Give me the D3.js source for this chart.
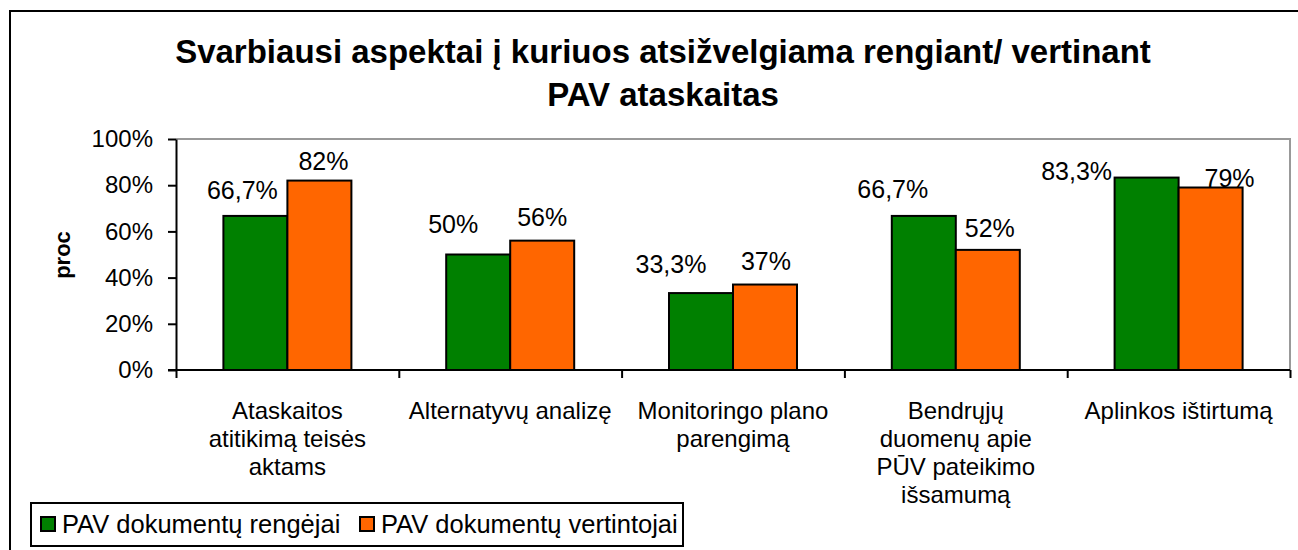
<!DOCTYPE html>
<html>
<head>
<meta charset="utf-8">
<script src="https://cdn.jsdelivr.net/npm/d3@7"></script>
<style>
  body { margin: 0; background: #fff; }
  svg text { font-family: "Liberation Sans", Arial, sans-serif; fill: #000; }
</style>
</head>
<body>
<div id="chart"></div>
<script>
var svgWidth = 1298;
var svgHeight = 550;

// data
var categories = [
  ["Ataskaitos", "atitikimą teisės", "aktams"],
  ["Alternatyvų analizę"],
  ["Monitoringo plano", "parengimą"],
  ["Bendrųjų", "duomenų apie", "PŪV pateikimo", "išsamumą"],
  ["Aplinkos ištirtumą"]
];
var seriesNames = ["PAV dokumentų rengėjai", "PAV dokumentų vertintojai"];
var rengejai = [66.7, 50, 33.3, 66.7, 83.3];
var vertintojai = [82, 56, 37, 52, 79];
var rengejaiLabels = ["66,7%", "50%", "33,3%", "66,7%", "83,3%"];
var vertintojaiLabels = ["82%", "56%", "37%", "52%", "79%"];
var yTicks = [0, 20, 40, 60, 80, 100];

var colors = ["#008000", "#ff6600"];

// hand-moved data labels in the original (dx from bar centre, dy from bar top)
var labelShift = [
  [[-13, -17], [-25, -22], [-30, -20], [-31, -18], [-70, 2]],
  [[4, -11], [0, -15], [1, -15], [2, -13], [19, -1]]
];

var plot = { left: 176, right: 1290, top: 139, bottom: 370 };

var svg = d3.select("#chart")
  .append("svg")
  .attr("width", svgWidth)
  .attr("height", svgHeight);

// outer chart border (runs off the right/bottom edge)
svg.append("rect")
  .attr("x", 10)
  .attr("y", 11)
  .attr("width", 1400)
  .attr("height", 700)
  .attr("fill", "none")
  .attr("stroke", "#000")
  .attr("stroke-width", 2);

// title
var title = svg.append("text")
  .attr("text-anchor", "middle")
  .attr("font-weight", "bold")
  .attr("font-size", 33);
title.append("tspan").attr("x", 663).attr("y", 63)
  .text("Svarbiausi aspektai į kuriuos atsižvelgiama rengiant/ vertinant");
title.append("tspan").attr("x", 663).attr("y", 106)
  .text("PAV ataskaitas");

// scales
var x0 = d3.scaleBand()
  .domain(d3.range(categories.length))
  .range([plot.left, plot.right])
  .paddingInner(0.4255)
  .paddingOuter(0.21275);

var x1 = d3.scaleBand()
  .domain([0, 1])
  .range([0, x0.bandwidth()]);

var y = d3.scaleLinear()
  .domain([0, 100])
  .range([plot.bottom, plot.top]);

var xEdge = d3.scaleLinear()
  .domain([0, categories.length])
  .range([plot.left, plot.right]);

// plot area border (grey top and right)
svg.append("path")
  .attr("d", `M${plot.left},${plot.top}H${plot.right}V${plot.bottom}`)
  .attr("fill", "none")
  .attr("stroke", "#999")
  .attr("stroke-width", 2);

// bars
var seriesValues = [rengejai, vertintojai];
var seriesLabels = [rengejaiLabels, vertintojaiLabels];

seriesValues.forEach(function(vals, s) {
  svg.append("g").selectAll("rect")
    .data(vals)
    .enter()
    .append("rect")
    .attr("x", (d, i) => x0(i) + x1(s))
    .attr("y", d => y(d))
    .attr("width", x1.bandwidth())
    .attr("height", d => y(0) - y(d))
    .attr("fill", colors[s])
    .attr("stroke", "#000")
    .attr("stroke-width", 2);
});

// data labels
seriesValues.forEach(function(vals, s) {
  svg.append("g").selectAll("text")
    .data(vals)
    .enter()
    .append("text")
    .attr("text-anchor", "middle")
    .attr("font-size", 25)
    .attr("x", (d, i) => x0(i) + x1(s) + x1.bandwidth() / 2 + labelShift[s][i][0])
    .attr("y", (d, i) => y(d) + labelShift[s][i][1])
    .text((d, i) => seriesLabels[s][i]);
});

// y axis
var yAxis = svg.append("g")
  .attr("transform", `translate(${plot.left},0)`)
  .call(d3.axisLeft(y)
    .tickValues(yTicks)
    .tickSize(8)
    .tickSizeOuter(0)
    .tickPadding(15)
    .tickFormat(d => d + "%"));
yAxis.select(".domain").attr("stroke", "#000").attr("stroke-width", 2);
yAxis.selectAll(".tick line").attr("stroke", "#000").attr("stroke-width", 2);
yAxis.selectAll(".tick text")
  .attr("font-size", 24)
  .attr("font-family", "Liberation Sans, Arial, sans-serif")
  .attr("fill", "#000");

// x axis (ticks at category boundaries)
var xAxis = svg.append("g")
  .attr("transform", `translate(0,${plot.bottom})`)
  .call(d3.axisBottom(xEdge)
    .tickValues(d3.range(categories.length + 1))
    .tickSize(8)
    .tickSizeOuter(0)
    .tickFormat(""));
xAxis.select(".domain").attr("stroke", "#000").attr("stroke-width", 2)
  .attr("d", `M${plot.left - 8},0H${plot.right}`);
xAxis.selectAll(".tick line").attr("stroke", "#000").attr("stroke-width", 2);

// category labels
var catText = svg.append("g").selectAll("text")
  .data(categories)
  .enter()
  .append("text")
  .attr("text-anchor", "middle")
  .attr("font-size", 24);
catText.each(function(lines, i) {
  var t = d3.select(this);
  lines.forEach(function(line, k) {
    t.append("tspan")
      .attr("x", x0(i) + x0.bandwidth() / 2)
      .attr("y", 419 + k * 28)
      .text(line);
  });
});

// y axis title
svg.append("text")
  .attr("transform", "translate(70,255) rotate(-90)")
  .attr("text-anchor", "middle")
  .attr("font-weight", "bold")
  .attr("font-size", 22)
  .text("proc");

// legend
var legend = svg.append("g");
legend.append("rect")
  .attr("x", 31)
  .attr("y", 503)
  .attr("width", 652)
  .attr("height", 43)
  .attr("fill", "#fff")
  .attr("stroke", "#000")
  .attr("stroke-width", 2);

var legendX = [41, 360];
seriesNames.forEach(function(name, s) {
  legend.append("rect")
    .attr("x", legendX[s])
    .attr("y", 517)
    .attr("width", 14)
    .attr("height", 14)
    .attr("fill", colors[s])
    .attr("stroke", "#000")
    .attr("stroke-width", 2);
  legend.append("text")
    .attr("x", legendX[s] + 21)
    .attr("y", 533)
    .attr("font-size", 25.5)
    .text(name);
});
</script>
</body>
</html>
